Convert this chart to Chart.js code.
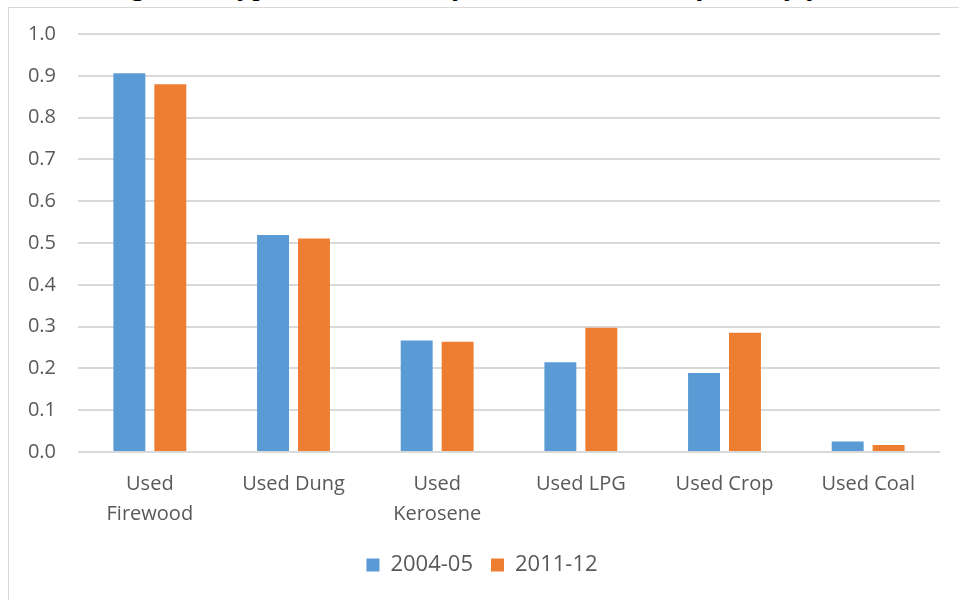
<!DOCTYPE html>
<html>
<head>
<meta charset="utf-8">
<script src="https://cdn.jsdelivr.net/npm/chart.js@4"></script>
<style>
  html, body { margin: 0; padding: 0; background: #fff; overflow: hidden; }
  #wrap { position: relative; width: 959px; height: 600px; overflow: hidden; }
  #caption {
    position: absolute; left: 105px; top: -30.5px;
    font: 30px "Liberation Serif", "Times New Roman", serif;
    line-height: 30px; white-space: nowrap; color: #000;
  }
  #frame {
    position: absolute; left: 8px; top: 7px; width: 1000px; height: 700px;
    border: 1px solid #d9d9d9; box-sizing: border-box;
  }
  #chartFuel { position: absolute; left: 0; top: 0; }
</style>
</head>
<body>
<div id="wrap">
  <div id="caption">Figure 4: Type of fuel used by rural households by survey year</div>
  <div id="frame"></div>
  <canvas id="chartFuel" width="959" height="600"></canvas>
</div>
<script>
// datos
const categorias = [["Used", "Firewood"], "Used Dung", ["Used", "Kerosene"], "Used LPG", "Used Crop", "Used Coal"];
const serie2004 = [0.906, 0.519, 0.267, 0.215, 0.189, 0.025];
const serie2011 = [0.880, 0.511, 0.264, 0.297, 0.285, 0.017];
const etiquetasSeries = ["2004-05", "2011-12"];
const ticksY = [0.0, 0.1, 0.2, 0.3, 0.4, 0.5, 0.6, 0.7, 0.8, 0.9, 1.0];

const ctx_fuel = document.getElementById("chartFuel");
const fuente = "'Open Sans', 'Noto Sans', sans-serif";

const myChart = new Chart(ctx_fuel, {
  type: "bar",
  data: {
    labels: categorias,
    datasets: [
      {
        label: etiquetasSeries[0],
        data: serie2004,
        backgroundColor: "#5B9BD5",
        categoryPercentage: 0.57,
        barPercentage: 0.78,
      },
      {
        label: etiquetasSeries[1],
        data: serie2011,
        backgroundColor: "#ED7D31",
        categoryPercentage: 0.57,
        barPercentage: 0.78,
      },
    ],
  },
  options: {
    responsive: false,
    animation: false,
    layout: {
      padding: { left: 24, right: 19, top: 30, bottom: 14 },
    },
    plugins: {
      tooltip: { enabled: false },
      legend: {
        position: "bottom",
        labels: {
          color: "#595959",
          font: { family: fuente, size: 22 },
          boxWidth: 13,
          boxHeight: 13,
          padding: 18,
        },
      },
    },
    scales: {
      x: {
        grid: { display: false },
        border: { display: false },
        ticks: {
          color: "#595959",
          font: { family: fuente, size: 20, lineHeight: 1.5 },
          padding: 9,
          maxRotation: 0,
          autoSkip: false,
        },
        afterFit: function (scale) {
          scale.height = 84;
        },
      },
      y: {
        min: 0,
        max: 1,
        afterBuildTicks: function (scale) {
          scale.ticks = ticksY.map((v) => ({ value: v }));
        },
        grid: { color: "#d9d9d9", lineWidth: 2, drawTicks: false },
        border: { display: false },
        ticks: {
          color: "#595959",
          font: { family: fuente, size: 20 },
          padding: 22,
          callback: function (v) {
            return Number(v).toFixed(1);
          },
        },
        afterFit: function (scale) {
          scale.width = 54;
        },
      },
    },
  },
});
</script>
</body>
</html>
